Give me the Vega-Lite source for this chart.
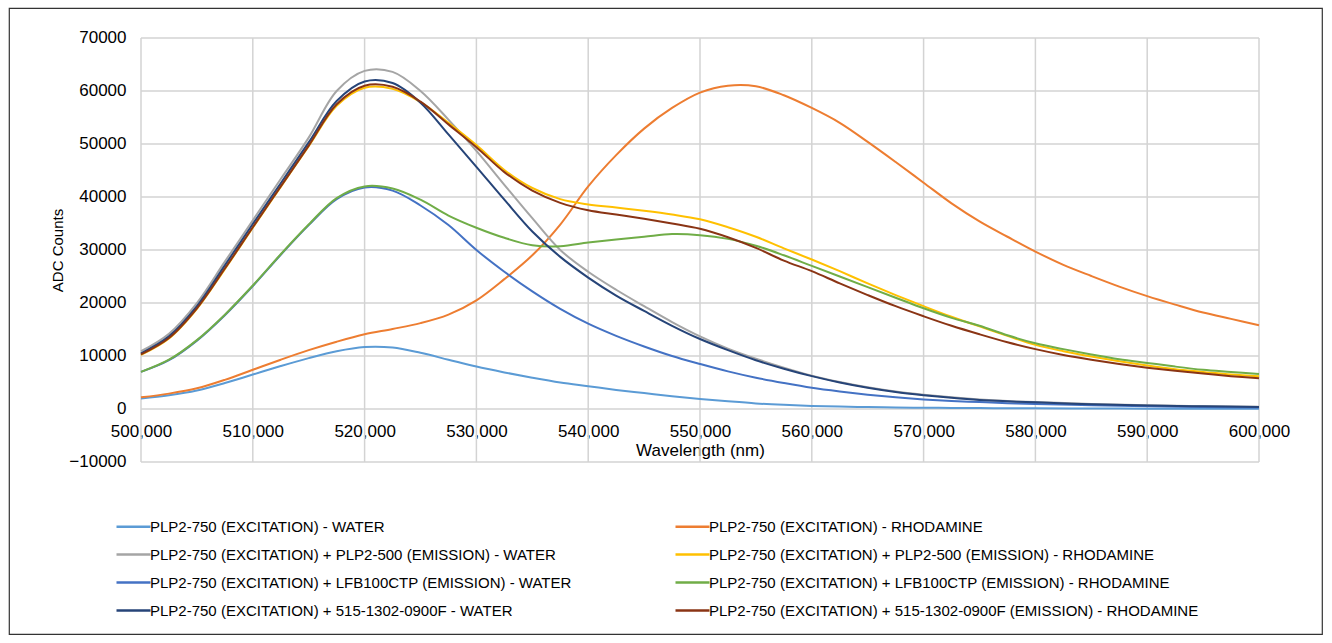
{
  "$schema": "https://vega.github.io/schema/vega-lite/v6.json",
  "width": 1313,
  "height": 626,
  "autosize": {"type": "none"},
  "padding": {"left": 9, "top": 8, "right": 10, "bottom": 9},
  "background": "white",
  "config": {
    "font": "Liberation Sans",
    "view": {"stroke": "#333333", "strokeWidth": 1.2},
    "axis": {"labelColor": "#000000", "titleColor": "#000000", "titleFontWeight": "normal", "labelFont": "Liberation Sans", "titleFont": "Liberation Sans"},
    "legend": {"labelColor": "#000000", "labelFont": "Liberation Sans"}
  },
  "resolve": {"axis": {"x": "independent", "y": "independent"}},
  "datasets": {
    "series": [
      {"k": 1, "name": "PLP2-750 (EXCITATION) - WATER"},
      {"k": 2, "name": "PLP2-750 (EXCITATION) - RHODAMINE"},
      {"k": 3, "name": "PLP2-750 (EXCITATION) + PLP2-500 (EMISSION) - WATER"},
      {"k": 4, "name": "PLP2-750 (EXCITATION) + PLP2-500 (EMISSION) - RHODAMINE"},
      {"k": 5, "name": "PLP2-750 (EXCITATION) + LFB100CTP (EMISSION) - WATER"},
      {"k": 6, "name": "PLP2-750 (EXCITATION) + LFB100CTP (EMISSION) - RHODAMINE"},
      {"k": 7, "name": "PLP2-750 (EXCITATION) + 515-1302-0900F - WATER"},
      {"k": 8, "name": "PLP2-750 (EXCITATION) + 515-1302-0900F (EMISSION) - RHODAMINE"}
    ],
    "xgrid": [{"w": 500}, {"w": 510}, {"w": 520}, {"w": 530}, {"w": 540}, {"w": 550}, {"w": 560}, {"w": 570}, {"w": 580}, {"w": 590}, {"w": 600}],
    "ygrid": [{"c": -10000}, {"c": 0}, {"c": 10000}, {"c": 20000}, {"c": 30000}, {"c": 40000}, {"c": 50000}, {"c": 60000}, {"c": 70000}],
    "spectra": [
      {"k":1,"w":500,"c":2000},{"k":1,"w":502.5,"c":2600},{"k":1,"w":505,"c":3500},{"k":1,"w":507.5,"c":4900},{"k":1,"w":510,"c":6500},{"k":1,"w":512.5,"c":8100},{"k":1,"w":515,"c":9600},{"k":1,"w":517.5,"c":10900},{"k":1,"w":520,"c":11700},{"k":1,"w":522.5,"c":11600},{"k":1,"w":525,"c":10600},{"k":1,"w":527.5,"c":9300},{"k":1,"w":530,"c":8000},{"k":1,"w":532.5,"c":6900},{"k":1,"w":535,"c":5900},{"k":1,"w":537.5,"c":5000},{"k":1,"w":540,"c":4300},{"k":1,"w":542.5,"c":3600},{"k":1,"w":545,"c":3000},{"k":1,"w":547.5,"c":2400},{"k":1,"w":550,"c":1900},{"k":1,"w":552.5,"c":1450},{"k":1,"w":555,"c":1050},{"k":1,"w":557.5,"c":780},{"k":1,"w":560,"c":580},{"k":1,"w":562.5,"c":450},{"k":1,"w":565,"c":360},{"k":1,"w":567.5,"c":290},{"k":1,"w":570,"c":230},{"k":1,"w":572.5,"c":200},{"k":1,"w":575,"c":170},{"k":1,"w":577.5,"c":140},{"k":1,"w":580,"c":120},{"k":1,"w":585,"c":90},{"k":1,"w":590,"c":70},{"k":1,"w":595,"c":60},{"k":1,"w":600,"c":50},
      {"k":2,"w":500,"c":2200},{"k":2,"w":502.5,"c":2900},{"k":2,"w":505,"c":3900},{"k":2,"w":507.5,"c":5500},{"k":2,"w":510,"c":7400},{"k":2,"w":512.5,"c":9300},{"k":2,"w":515,"c":11100},{"k":2,"w":517.5,"c":12700},{"k":2,"w":520,"c":14100},{"k":2,"w":522.5,"c":15100},{"k":2,"w":525,"c":16200},{"k":2,"w":527.5,"c":17800},{"k":2,"w":530,"c":20500},{"k":2,"w":532.5,"c":24500},{"k":2,"w":535,"c":29000},{"k":2,"w":537.5,"c":34800},{"k":2,"w":540,"c":42000},{"k":2,"w":542.5,"c":47900},{"k":2,"w":545,"c":52900},{"k":2,"w":547.5,"c":56800},{"k":2,"w":550,"c":59700},{"k":2,"w":552.5,"c":61000},{"k":2,"w":555,"c":60900},{"k":2,"w":557.5,"c":59200},{"k":2,"w":560,"c":56800},{"k":2,"w":562.5,"c":54000},{"k":2,"w":565,"c":50400},{"k":2,"w":567.5,"c":46600},{"k":2,"w":570,"c":42700},{"k":2,"w":572.5,"c":38800},{"k":2,"w":575,"c":35400},{"k":2,"w":577.5,"c":32500},{"k":2,"w":580,"c":29700},{"k":2,"w":582.5,"c":27200},{"k":2,"w":585,"c":25100},{"k":2,"w":587.5,"c":23100},{"k":2,"w":590,"c":21300},{"k":2,"w":592.5,"c":19700},{"k":2,"w":595,"c":18200},{"k":2,"w":597.5,"c":17000},{"k":2,"w":600,"c":15800},
      {"k":3,"w":500,"c":10900},{"k":3,"w":502.5,"c":14200},{"k":3,"w":505,"c":20000},{"k":3,"w":507.5,"c":27800},{"k":3,"w":510,"c":35600},{"k":3,"w":512.5,"c":43400},{"k":3,"w":515,"c":51200},{"k":3,"w":517.5,"c":60000},{"k":3,"w":520,"c":63800},{"k":3,"w":522.5,"c":63600},{"k":3,"w":525,"c":60000},{"k":3,"w":527.5,"c":54600},{"k":3,"w":530,"c":48700},{"k":3,"w":532.5,"c":42300},{"k":3,"w":535,"c":36000},{"k":3,"w":537.5,"c":30000},{"k":3,"w":540,"c":25900},{"k":3,"w":542.5,"c":22500},{"k":3,"w":545,"c":19400},{"k":3,"w":547.5,"c":16400},{"k":3,"w":550,"c":13700},{"k":3,"w":552.5,"c":11400},{"k":3,"w":555,"c":9500},{"k":3,"w":557.5,"c":7800},{"k":3,"w":560,"c":6300},{"k":3,"w":562.5,"c":5100},{"k":3,"w":565,"c":4100},{"k":3,"w":567.5,"c":3300},{"k":3,"w":570,"c":2700},{"k":3,"w":572.5,"c":2200},{"k":3,"w":575,"c":1800},{"k":3,"w":577.5,"c":1500},{"k":3,"w":580,"c":1300},{"k":3,"w":585,"c":950},{"k":3,"w":590,"c":700},{"k":3,"w":595,"c":520},{"k":3,"w":600,"c":420},
      {"k":4,"w":500,"c":10200},{"k":4,"w":502.5,"c":13300},{"k":4,"w":505,"c":18900},{"k":4,"w":507.5,"c":26400},{"k":4,"w":510,"c":34200},{"k":4,"w":512.5,"c":41900},{"k":4,"w":515,"c":49600},{"k":4,"w":517.5,"c":57200},{"k":4,"w":520,"c":60600},{"k":4,"w":522.5,"c":60400},{"k":4,"w":525,"c":57900},{"k":4,"w":527.5,"c":54000},{"k":4,"w":530,"c":49800},{"k":4,"w":532.5,"c":45100},{"k":4,"w":535,"c":41700},{"k":4,"w":537.5,"c":39600},{"k":4,"w":540,"c":38600},{"k":4,"w":542.5,"c":38000},{"k":4,"w":545,"c":37400},{"k":4,"w":547.5,"c":36700},{"k":4,"w":550,"c":35800},{"k":4,"w":552.5,"c":34300},{"k":4,"w":555,"c":32500},{"k":4,"w":557.5,"c":30300},{"k":4,"w":560,"c":28200},{"k":4,"w":562.5,"c":26000},{"k":4,"w":565,"c":23700},{"k":4,"w":567.5,"c":21500},{"k":4,"w":570,"c":19400},{"k":4,"w":572.5,"c":17400},{"k":4,"w":575,"c":15600},{"k":4,"w":577.5,"c":13800},{"k":4,"w":580,"c":12100},{"k":4,"w":582.5,"c":10900},{"k":4,"w":585,"c":9900},{"k":4,"w":587.5,"c":9000},{"k":4,"w":590,"c":8200},{"k":4,"w":592.5,"c":7500},{"k":4,"w":595,"c":7000},{"k":4,"w":597.5,"c":6500},{"k":4,"w":600,"c":6200},
      {"k":5,"w":500,"c":7000},{"k":5,"w":502.5,"c":9200},{"k":5,"w":505,"c":12900},{"k":5,"w":507.5,"c":17700},{"k":5,"w":510,"c":23200},{"k":5,"w":512.5,"c":29100},{"k":5,"w":515,"c":34700},{"k":5,"w":517.5,"c":39600},{"k":5,"w":520,"c":41800},{"k":5,"w":522.5,"c":41200},{"k":5,"w":525,"c":38400},{"k":5,"w":527.5,"c":34700},{"k":5,"w":530,"c":30000},{"k":5,"w":532.5,"c":25900},{"k":5,"w":535,"c":22200},{"k":5,"w":537.5,"c":18900},{"k":5,"w":540,"c":16100},{"k":5,"w":542.5,"c":13800},{"k":5,"w":545,"c":11800},{"k":5,"w":547.5,"c":10000},{"k":5,"w":550,"c":8500},{"k":5,"w":552.5,"c":7100},{"k":5,"w":555,"c":5900},{"k":5,"w":557.5,"c":4900},{"k":5,"w":560,"c":4000},{"k":5,"w":562.5,"c":3300},{"k":5,"w":565,"c":2700},{"k":5,"w":567.5,"c":2200},{"k":5,"w":570,"c":1800},{"k":5,"w":572.5,"c":1500},{"k":5,"w":575,"c":1300},{"k":5,"w":577.5,"c":1100},{"k":5,"w":580,"c":950},{"k":5,"w":585,"c":700},{"k":5,"w":590,"c":500},{"k":5,"w":595,"c":380},{"k":5,"w":600,"c":300},
      {"k":6,"w":500,"c":7000},{"k":6,"w":502.5,"c":9300},{"k":6,"w":505,"c":13000},{"k":6,"w":507.5,"c":17800},{"k":6,"w":510,"c":23300},{"k":6,"w":512.5,"c":29200},{"k":6,"w":515,"c":34800},{"k":6,"w":517.5,"c":39800},{"k":6,"w":520,"c":42000},{"k":6,"w":522.5,"c":41600},{"k":6,"w":525,"c":39500},{"k":6,"w":527.5,"c":36500},{"k":6,"w":530,"c":34200},{"k":6,"w":532.5,"c":32300},{"k":6,"w":535,"c":30900},{"k":6,"w":537.5,"c":30700},{"k":6,"w":540,"c":31400},{"k":6,"w":542.5,"c":32000},{"k":6,"w":545,"c":32500},{"k":6,"w":547.5,"c":33000},{"k":6,"w":550,"c":32800},{"k":6,"w":552.5,"c":32100},{"k":6,"w":555,"c":30800},{"k":6,"w":557.5,"c":29000},{"k":6,"w":560,"c":27000},{"k":6,"w":562.5,"c":25000},{"k":6,"w":565,"c":23000},{"k":6,"w":567.5,"c":21000},{"k":6,"w":570,"c":19000},{"k":6,"w":572.5,"c":17200},{"k":6,"w":575,"c":15700},{"k":6,"w":577.5,"c":13900},{"k":6,"w":580,"c":12400},{"k":6,"w":582.5,"c":11300},{"k":6,"w":585,"c":10300},{"k":6,"w":587.5,"c":9400},{"k":6,"w":590,"c":8700},{"k":6,"w":592.5,"c":8000},{"k":6,"w":595,"c":7400},{"k":6,"w":597.5,"c":7000},{"k":6,"w":600,"c":6600},
      {"k":7,"w":500,"c":10500},{"k":7,"w":502.5,"c":13700},{"k":7,"w":505,"c":19400},{"k":7,"w":507.5,"c":27100},{"k":7,"w":510,"c":34900},{"k":7,"w":512.5,"c":42600},{"k":7,"w":515,"c":50300},{"k":7,"w":517.5,"c":58100},{"k":7,"w":520,"c":61800},{"k":7,"w":522.5,"c":61500},{"k":7,"w":525,"c":57800},{"k":7,"w":527.5,"c":51800},{"k":7,"w":530,"c":45700},{"k":7,"w":532.5,"c":39500},{"k":7,"w":535,"c":33500},{"k":7,"w":537.5,"c":28700},{"k":7,"w":540,"c":24800},{"k":7,"w":542.5,"c":21400},{"k":7,"w":545,"c":18500},{"k":7,"w":547.5,"c":15700},{"k":7,"w":550,"c":13200},{"k":7,"w":552.5,"c":11100},{"k":7,"w":555,"c":9200},{"k":7,"w":557.5,"c":7600},{"k":7,"w":560,"c":6200},{"k":7,"w":562.5,"c":5000},{"k":7,"w":565,"c":4000},{"k":7,"w":567.5,"c":3200},{"k":7,"w":570,"c":2600},{"k":7,"w":572.5,"c":2100},{"k":7,"w":575,"c":1700},{"k":7,"w":577.5,"c":1450},{"k":7,"w":580,"c":1250},{"k":7,"w":585,"c":900},{"k":7,"w":590,"c":650},{"k":7,"w":595,"c":500},{"k":7,"w":600,"c":400},
      {"k":8,"w":500,"c":10300},{"k":8,"w":502.5,"c":13400},{"k":8,"w":505,"c":19000},{"k":8,"w":507.5,"c":26500},{"k":8,"w":510,"c":34300},{"k":8,"w":512.5,"c":42000},{"k":8,"w":515,"c":49700},{"k":8,"w":517.5,"c":57500},{"k":8,"w":520,"c":61000},{"k":8,"w":522.5,"c":60800},{"k":8,"w":525,"c":58000},{"k":8,"w":527.5,"c":53700},{"k":8,"w":530,"c":49400},{"k":8,"w":532.5,"c":44700},{"k":8,"w":535,"c":41200},{"k":8,"w":537.5,"c":38900},{"k":8,"w":540,"c":37500},{"k":8,"w":542.5,"c":36700},{"k":8,"w":545,"c":35900},{"k":8,"w":547.5,"c":35000},{"k":8,"w":550,"c":34000},{"k":8,"w":552.5,"c":32400},{"k":8,"w":555,"c":30400},{"k":8,"w":557.5,"c":28000},{"k":8,"w":560,"c":26000},{"k":8,"w":562.5,"c":23700},{"k":8,"w":565,"c":21500},{"k":8,"w":567.5,"c":19400},{"k":8,"w":570,"c":17500},{"k":8,"w":572.5,"c":15700},{"k":8,"w":575,"c":14100},{"k":8,"w":577.5,"c":12600},{"k":8,"w":580,"c":11300},{"k":8,"w":582.5,"c":10200},{"k":8,"w":585,"c":9300},{"k":8,"w":587.5,"c":8500},{"k":8,"w":590,"c":7800},{"k":8,"w":592.5,"c":7200},{"k":8,"w":595,"c":6700},{"k":8,"w":597.5,"c":6200},{"k":8,"w":600,"c":5800}
    ]
  },
  "layer": [
    {
      "data": {"name": "xgrid"},
      "mark": {"type": "rule", "color": "#d3d3d3", "strokeWidth": 1.5},
      "encoding": {
        "x": {"field": "w", "type": "quantitative", "scale": {"domain": [488.193, 605.635], "nice": false, "zero": false}, "axis": null},
        "y": {"datum": -10000, "type": "quantitative", "scale": {"domain": [-42453, 75660], "nice": false, "zero": false}, "axis": null},
        "y2": {"datum": 70000}
      }
    },
    {
      "data": {"name": "ygrid"},
      "mark": {"type": "rule", "color": "#d3d3d3", "strokeWidth": 1.5},
      "encoding": {
        "y": {"field": "c", "type": "quantitative", "scale": {"domain": [-42453, 75660], "nice": false, "zero": false}, "axis": null},
        "x": {"datum": 500, "type": "quantitative", "scale": {"domain": [488.193, 605.635], "nice": false, "zero": false}, "axis": null},
        "x2": {"datum": 600}
      }
    },
    {
      "data": {"name": "spectra"},
      "transform": [
        {"lookup": "k", "from": {"data": {"name": "series"}, "key": "k", "fields": ["name"]}}
      ],
      "mark": {"type": "line", "strokeWidth": 2, "interpolate": "catmull-rom"},
      "encoding": {
        "x": {
          "field": "w", "type": "quantitative",
          "scale": {"domain": [488.193, 605.635], "nice": false, "zero": false},
          "axis": {
            "values": [500, 510, 520, 530, 540, 550, 560, 570, 580, 590, 600],
            "labelExpr": "datum.value + ',000'",
            "offset": -225, "grid": false, "domain": false, "ticks": false, "tickSize": 0,
            "labelPadding": 14, "labelFontSize": 17, "labelFlush": false, "labelOverlap": false,
            "title": "Wavelength (nm)", "titleFontSize": 17, "titlePadding": 3, "titleX": 691
          }
        },
        "y": {
          "field": "c", "type": "quantitative",
          "scale": {"domain": [-42453, 75660], "nice": false, "zero": false},
          "axis": {
            "values": [-10000, 0, 10000, 20000, 30000, 40000, 50000, 60000, 70000],
            "format": "d",
            "offset": -132, "grid": false, "domain": false, "ticks": false, "tickSize": 0,
            "labelPadding": 15, "labelFontSize": 17, "labelFlush": false, "labelOverlap": false,
            "title": "ADC Counts", "titleFontSize": 15, "titlePadding": 3, "titleY": 242
          }
        },
        "color": {
          "field": "name", "type": "nominal",
          "scale": {
            "domain": [
              "PLP2-750 (EXCITATION) - WATER",
              "PLP2-750 (EXCITATION) - RHODAMINE",
              "PLP2-750 (EXCITATION) + PLP2-500 (EMISSION) - WATER",
              "PLP2-750 (EXCITATION) + PLP2-500 (EMISSION) - RHODAMINE",
              "PLP2-750 (EXCITATION) + LFB100CTP (EMISSION) - WATER",
              "PLP2-750 (EXCITATION) + LFB100CTP (EMISSION) - RHODAMINE",
              "PLP2-750 (EXCITATION) + 515-1302-0900F - WATER",
              "PLP2-750 (EXCITATION) + 515-1302-0900F (EMISSION) - RHODAMINE"
            ],
            "range": ["#5b9bd5", "#ed7d31", "#a5a5a5", "#ffc000", "#4472c4", "#70ad47", "#264478", "#8a3414"]
          },
          "legend": {
            "orient": "none", "legendX": 106, "legendY": 500, "direction": "horizontal",
            "columns": 2, "columnPadding": 98, "rowPadding": 1, "padding": 0,
            "title": null, "symbolType": "stroke", "symbolSize": 1156, "symbolStrokeWidth": 2.5,
            "labelFontSize": 15, "labelLimit": 0, "labelOffset": -2
          }
        }
      }
    }
  ]
}
